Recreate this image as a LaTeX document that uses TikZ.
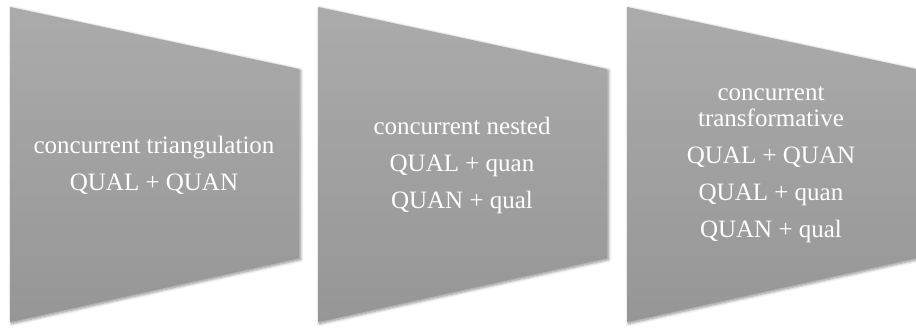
\documentclass[tikz,border=0pt]{standalone}
\usepackage{fontspec}
\setmainfont{Liberation Serif}
\usetikzlibrary{shadows.blur}
\definecolor{paneltop}{RGB}{171,171,171}
\definecolor{panelbottom}{RGB}{150,150,150}
\tikzset{
  panel/.style={top color=paneltop, bottom color=panelbottom, draw=none,
    blur shadow={shadow xshift=1.5pt, shadow yshift=-1.5pt, shadow blur radius=3pt,
      shadow blur steps=8, shadow opacity=45}},
  paneltext/.style={text=white, align=center, inner sep=0pt,
    font=\fontsize{25}{26}\selectfont}
}
\begin{document}
\begin{tikzpicture}[x=1pt, y=-1pt]
  \useasboundingbox (0,0) rectangle (916,327);
  % three tapering panels
  \foreach \x/\n in {10/p1, 318/p2, 627/p3} {
    \path[panel] (\x,7) -- (\x+289,69) -- (\x+289,258) -- (\x,322) -- cycle;
  }
  \node[paneltext] (t1) at (154,165) {concurrent triangulation\\[11pt]QUAL + QUAN};
  \node[paneltext] (t2) at (462,165) {concurrent nested\\[11pt]QUAL + quan\\[11pt]QUAN + qual};
  \node[paneltext] (t3) at (771,165) {concurrent\\transformative\\[11pt]QUAL + QUAN\\[11pt]QUAL + quan\\[11pt]QUAN + qual};
\end{tikzpicture}
\end{document}
